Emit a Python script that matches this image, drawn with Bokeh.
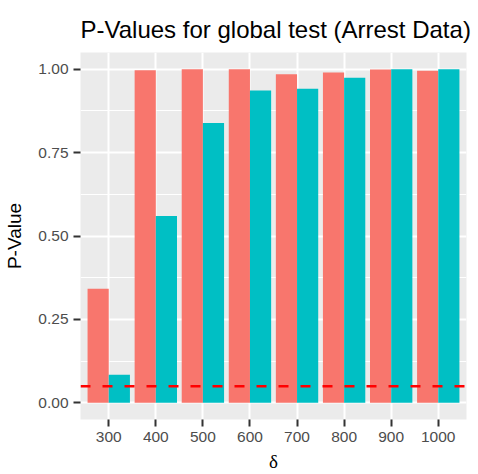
from bokeh.plotting import figure
from bokeh.models import ColumnDataSource, FactorRange, Range1d, FixedTicker, Span
from bokeh.transform import dodge
from bokeh.embed import file_html
from bokeh.resources import INLINE

deltas = ["300", "400", "500", "600", "700", "800", "900", "1000"]
pval_red = [0.342, 0.997, 1.000, 1.000, 0.985, 0.990, 0.999, 0.995]
pval_cyan = [0.084, 0.560, 0.839, 0.936, 0.941, 0.974, 1.000, 1.000]
alpha_level = 0.05
y_ticks = [0.0, 0.25, 0.5, 0.75, 1.0]
y_minor = [0.125, 0.375, 0.625, 0.875]

src = ColumnDataSource(dict(delta=deltas, red=pval_red, cyan=pval_cyan))

FONT = "Liberation Sans"

p = figure(
    width=478, height=474,
    x_range=FactorRange(*deltas, range_padding=0.1, range_padding_units="absolute"),
    y_range=Range1d(-0.05, 1.05),
    output_backend="svg", toolbar_location=None,
    title="P-Values for global test (Arrest Data)",
    min_border_left=80, min_border_right=12, min_border_top=52, min_border_bottom=51,
)
p.background_fill_color = "#EBEBEB"
p.border_fill_color = "white"
p.outline_line_color = None

p.vbar(x=dodge("delta", -0.225, range=p.x_range), top="red", bottom=0, width=0.45,
       source=src, fill_color="#F8766D", line_color=None)
p.vbar(x=dodge("delta", 0.225, range=p.x_range), top="cyan", bottom=0, width=0.45,
       source=src, fill_color="#00BFC4", line_color=None)

p.add_layout(Span(location=alpha_level, dimension="width", line_color="#FF0000",
                  line_dash="10 12", line_width=2.5))

# title
p.title.text_font = FONT
p.title.text_font_size = "24px"
p.title.text_font_style = "normal"
p.title.text_color = "black"
p.title.align = "left"
p.title.standoff = 20

# axes
p.yaxis.ticker = FixedTicker(ticks=y_ticks, minor_ticks=y_minor)
p.yaxis.major_label_overrides = {t: f"{t:.2f}" for t in y_ticks}
p.yaxis.axis_label = "P-Value"
p.xaxis.axis_label = "δ"
for ax in (p.xaxis, p.yaxis):
    ax.axis_line_color = None
    ax.major_tick_line_color = "#333333"
    ax.major_tick_line_width = 2
    ax.major_tick_in = 0
    ax.major_tick_out = 7
    ax.minor_tick_line_color = None
    ax.major_label_text_font = FONT
    ax.major_label_text_font_size = "15.5px"
    ax.major_label_text_color = "#4D4D4D"
    ax.axis_label_text_font = FONT
    ax.axis_label_text_font_size = "19px"
    ax.axis_label_text_font_style = "normal"
    ax.axis_label_text_color = "black"
p.yaxis.major_label_standoff = 5
p.yaxis.axis_label_standoff = 10
p.xaxis.major_label_standoff = 5
p.xaxis.axis_label_standoff = 6
p.xaxis.axis_label_text_font = "Liberation Serif"

p.xgrid.grid_line_color = "white"
p.xgrid.grid_line_width = 2
p.ygrid.grid_line_color = "white"
p.ygrid.grid_line_width = 2
p.ygrid.minor_grid_line_color = "white"
p.ygrid.minor_grid_line_width = 1

open("out.html", "w").write(file_html(p, INLINE))
